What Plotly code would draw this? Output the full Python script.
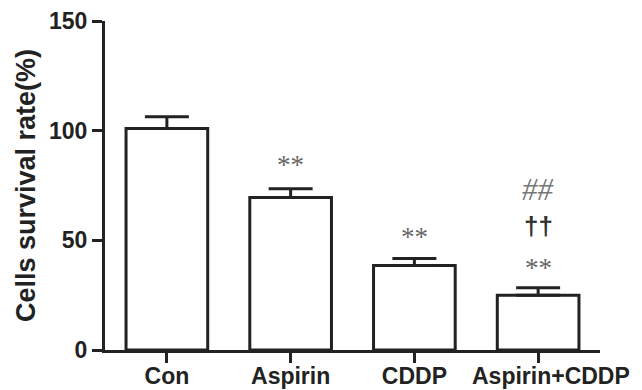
import plotly.graph_objects as go

categories = ["Con", "Aspirin", "CDDP", "Aspirin+CDDP"]
survival = [101.0, 69.5, 38.5, 25.0]
sem = [5.3, 4.0, 3.2, 3.4]

# significance marks: (category, label, height in data units)
sig_cats = ["Aspirin", "CDDP", "Aspirin+CDDP", "Aspirin+CDDP", "Aspirin+CDDP"]
sig_text = ["**", "**", "**", "††", "##"]
sig_y = [84.3, 51.4, 37.5, 56.5, 73.0]

y_ticks = [0, 50, 100, 150]

INK = "#222222"

# last label sits a little right of its tick in the reference
tick_text = categories[:-1] + ["\u00a0\u00a0\u00a0\u00a0" + categories[-1]]

fig = go.Figure()
fig.add_trace(go.Bar(
    x=categories,
    y=survival,
    width=0.66,
    marker=dict(color="white", line=dict(color=INK, width=3)),
    error_y=dict(type="data", symmetric=False, array=sem,
                 arrayminus=[0] * len(sem), color=INK, thickness=3, width=22),
    showlegend=False,
))

for c, t, yv in zip(sig_cats, sig_text, sig_y):
    if t == "††":
        font = dict(family="Liberation Sans", size=26, color="#333333", weight="bold")
    elif t == "##":
        font = dict(family="Liberation Serif", size=31, color="#777777", style="italic")
    else:
        font = dict(family="Liberation Serif", size=27, color="#666666")
    fig.add_annotation(x=c, y=yv, text=t, showarrow=False, font=font,
                       xanchor="center", yanchor="middle")

# page body has an 8px margin, so the figure is offset by 8px
fig.update_layout(
    width=634, height=382,
    margin=dict(l=97, r=42, t=13, b=40, autoexpand=False),
    paper_bgcolor="white", plot_bgcolor="white",
)
fig.update_xaxes(
    range=[-0.5, 3.5], showline=True, linewidth=3, linecolor=INK,
    ticks="outside", ticklen=10, tickwidth=3, tickcolor=INK,
    tickvals=categories, ticktext=tick_text, ticklabelstandoff=-7, tickangle=0,
    showgrid=False, zeroline=False,
    tickfont=dict(family="Liberation Sans", size=23, color="#222222", weight="bold"),
)
fig.update_yaxes(
    range=[0, 150], tickvals=y_ticks, showline=True, linewidth=3, linecolor=INK,
    ticks="outside", ticklen=10, tickwidth=3, tickcolor=INK,
    showgrid=False, zeroline=False,
    tickfont=dict(family="Liberation Sans", size=23, color="#222222", weight="bold"),
    title=dict(text="Cells survival rate(%)", standoff=6,
               font=dict(family="Liberation Sans", size=27, color="#222222", weight="bold")),
)

fig.write_html("out.html")
